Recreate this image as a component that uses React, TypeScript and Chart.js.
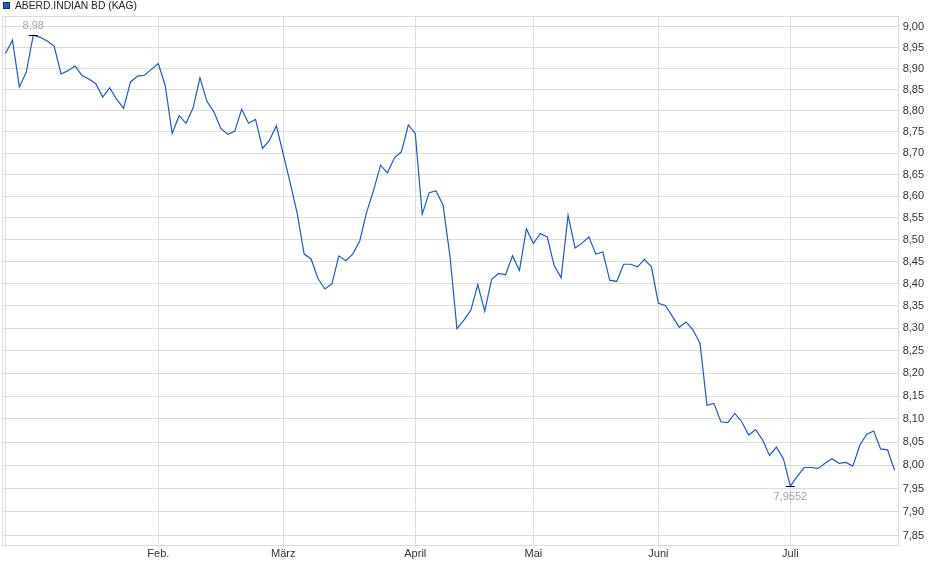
import React, { useEffect, useRef } from "react";
import { Chart, registerables } from "chart.js";

Chart.register(...registerables);

const seriesName = "ABERD.INDIAN BD (KAG)";

// one value per trading day, from early January to late July
const prices = [
  8.936, 8.968, 8.856, 8.892, 8.98, 8.975, 8.966, 8.954, 8.887, 8.895,
  8.906, 8.884, 8.875, 8.864, 8.832, 8.854, 8.827, 8.805, 8.868, 8.882,
  8.884, 8.898, 8.912, 8.859, 8.746, 8.788, 8.77, 8.806, 8.878, 8.822,
  8.797, 8.758, 8.744, 8.751, 8.803, 8.77, 8.779, 8.711, 8.73, 8.764,
  8.697, 8.63, 8.56, 8.467, 8.456, 8.411, 8.388, 8.4, 8.463, 8.452,
  8.467, 8.497, 8.563, 8.614, 8.672, 8.654, 8.689, 8.703, 8.766, 8.746,
  8.558, 8.608, 8.612, 8.579, 8.462, 8.299, 8.318, 8.34, 8.398, 8.338,
  8.41, 8.423, 8.42, 8.463, 8.43, 8.525, 8.491, 8.514, 8.506, 8.441,
  8.413, 8.556, 8.481, 8.492, 8.506, 8.467, 8.472, 8.408, 8.405, 8.444,
  8.444, 8.438, 8.455, 8.438, 8.356, 8.351, 8.327, 8.302, 8.314, 8.296,
  8.266, 8.13, 8.134, 8.094, 8.092, 8.112, 8.094, 8.065, 8.077, 8.055,
  8.021, 8.039, 8.014, 7.9552, 7.976, 7.995, 7.995, 7.993, 8.004, 8.014,
  8.004, 8.006, 7.998, 8.043, 8.067, 8.074, 8.035, 8.033, 7.989,
];

// the first tick (index 0) marks the start of the series and has no label
const monthLabels = ["", "Feb.", "März", "April", "Mai", "Juni", "Juli"];
const monthStarts = [0, 22, 40, 59, 76, 94, 113];

const yTicks = [
  7.85, 7.9, 7.95, 8.0, 8.05, 8.1, 8.15, 8.2, 8.25, 8.3, 8.35, 8.4,
  8.45, 8.5, 8.55, 8.6, 8.65, 8.7, 8.75, 8.8, 8.85, 8.9, 8.95, 9.0,
];

const FONT = "'Liberation Sans', Arial, sans-serif";
const LINE = "#1a5bc9";
const GRID = "#dcdcdc";

const deComma = (v: number, digits?: number) =>
  (digits === undefined ? String(v) : v.toFixed(digits)).replace(".", ",");

const framePlugin = {
  id: "frame",
  beforeDatasetsDraw(chart: any) {
    const { ctx, chartArea: a } = chart;
    ctx.save();
    ctx.strokeStyle = GRID;
    ctx.lineWidth = 1;
    ctx.strokeRect(Math.round(a.left) + 0.5, Math.round(a.top) + 0.5,
      Math.round(a.right - a.left), Math.round(a.bottom - a.top));
    ctx.beginPath();
    ctx.moveTo(Math.round(a.left) + 0.5, a.bottom);
    ctx.lineTo(Math.round(a.left) + 0.5, a.bottom + 2);
    ctx.stroke();
    ctx.restore();
  },
  afterDraw(chart: any) {
    const { ctx } = chart;
    ctx.save();
    // legend
    ctx.fillStyle = "#2458c0";
    ctx.fillRect(3, 2, 7, 7);
    ctx.strokeStyle = "#10307a";
    ctx.lineWidth = 1;
    ctx.strokeRect(3.5, 2.5, 6, 6);
    ctx.fillStyle = "#222";
    ctx.font = `10.3px ${FONT}`;
    ctx.textAlign = "left";
    ctx.textBaseline = "middle";
    ctx.fillText(seriesName, 15, 6.5);
    ctx.restore();
  },
};

const extremesPlugin = {
  id: "extremes",
  afterDatasetsDraw(chart: any) {
    const { ctx, scales } = chart;
    let hi = 0;
    let lo = 0;
    prices.forEach((v, i) => {
      if (v > prices[hi]) hi = i;
      if (v < prices[lo]) lo = i;
    });
    ctx.save();
    ctx.font = `11px ${FONT}`;
    ctx.textAlign = "center";
    ctx.textBaseline = "middle";
    ctx.strokeStyle = "#000";
    ctx.lineWidth = 1;
    const mark = (i: number, above: boolean, color: string) => {
      const x = scales.x.getPixelForValue(i);
      const y = Math.round(scales.y.getPixelForValue(prices[i])) + 0.5;
      ctx.beginPath();
      ctx.moveTo(x - 4.5, y);
      ctx.lineTo(x + 4.5, y);
      ctx.stroke();
      ctx.fillStyle = color;
      ctx.fillText(deComma(prices[i]), x, above ? y - 9.5 : y + 10.5);
    };
    mark(hi, true, "#b0a9a2");
    mark(lo, false, "#9ea3ab");
    ctx.restore();
  },
};

export default function App() {
  const canvasRef = useRef<HTMLCanvasElement | null>(null);
  const chartRef = useRef<Chart | null>(null);

  useEffect(() => {
    document.body.style.margin = "0";
    if (!canvasRef.current) return;
    if (chartRef.current) chartRef.current.destroy();

    chartRef.current = new Chart(canvasRef.current, {
      type: "line",
      data: {
        datasets: [
          {
            label: seriesName,
            data: prices.map((v, i) => ({ x: i, y: v })),
            borderColor: LINE,
            borderWidth: 1.2,
            pointRadius: 0,
            tension: 0,
            fill: false,
          },
        ],
      },
      options: {
        animation: false,
        responsive: false,
        devicePixelRatio: 1,
        layout: { padding: { top: 16, left: 2, right: 0, bottom: 0 } },
        plugins: {
          legend: { display: false },
          tooltip: { enabled: false },
        },
        scales: {
          x: {
            type: "linear",
            bounds: "data",
            min: -0.504,
            max: 128.46,
            afterBuildTicks: (s: any) => {
              s.ticks = monthStarts.map((v) => ({ value: v }));
            },
            afterFit: (s: any) => {
              s.height = 33.7;
            },
            ticks: {
              autoSkip: false,
              maxRotation: 0,
              padding: 0,
              color: "#333",
              font: { family: FONT, size: 11 },
              callback: (v: any) => {
                const k = monthStarts.indexOf(Number(v));
                return k >= 0 ? monthLabels[k] : "";
              },
            },
            grid: { color: GRID, drawTicks: true, tickLength: 2 },
            border: { display: false },
          },
          y: {
            type: "logarithmic",
            position: "right",
            bounds: "data",
            min: 7.8296,
            max: 9.0266,
            afterBuildTicks: (s: any) => {
              s.ticks = yTicks.map((v) => ({ value: v }));
            },
            afterFit: (s: any) => {
              s.width = 42.3;
            },
            ticks: {
              autoSkip: false,
              padding: 5,
              color: "#333",
              font: { family: FONT, size: 11 },
              callback: (v: any) => deComma(Number(v), 2),
            },
            grid: { color: GRID, drawTicks: false },
            border: { display: false },
          },
        },
      },
      plugins: [framePlugin, extremesPlugin],
    });

    return () => {
      if (chartRef.current) {
        chartRef.current.destroy();
        chartRef.current = null;
      }
    };
  }, []);

  return (
    <div style={{ width: 940, height: 579, position: "relative", background: "#fff" }}>
      <canvas ref={canvasRef} width={940} height={579}></canvas>
    </div>
  );
}
